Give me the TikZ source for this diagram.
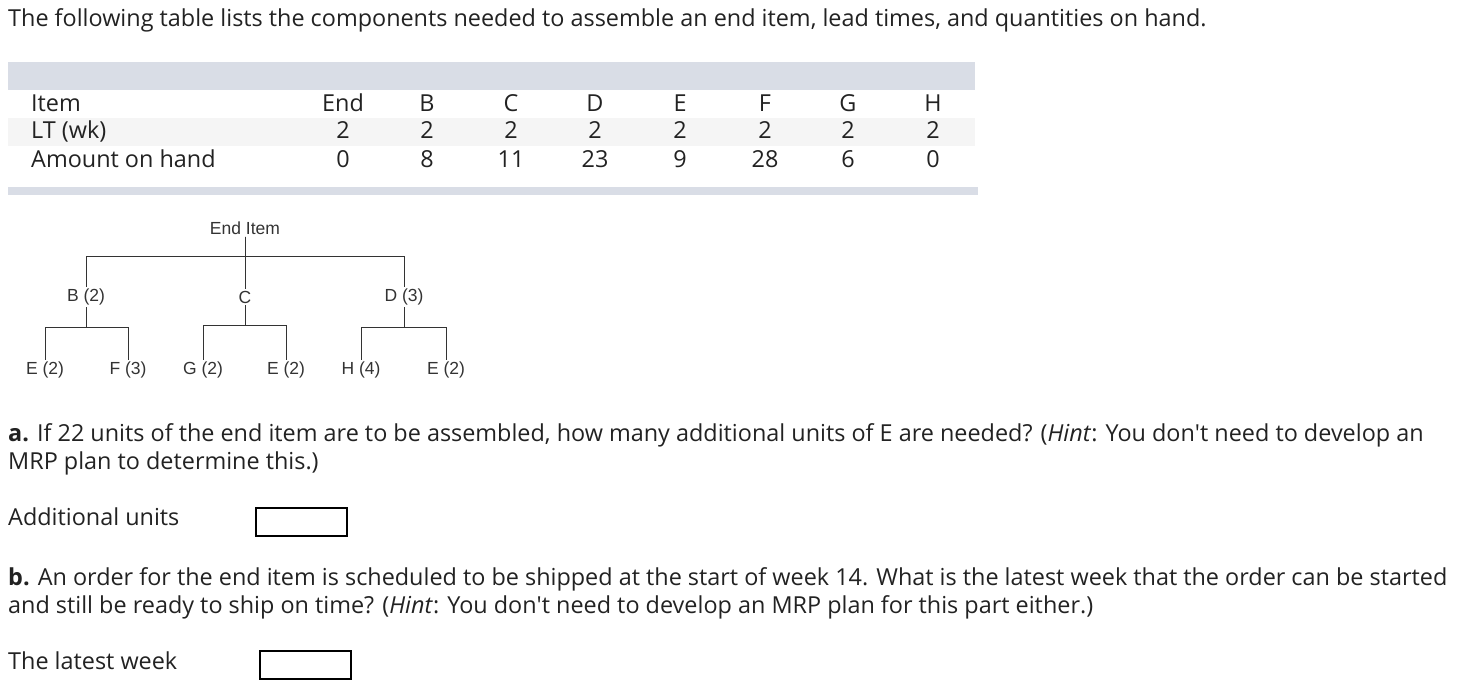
\documentclass[tikz,border=0pt]{standalone}
\usepackage{fontspec}
\setmainfont{Open Sans}
\newfontfamily\treefont{Liberation Sans}
\usetikzlibrary{positioning}

\definecolor{bandgray}{HTML}{D9DDE6}
\definecolor{rowgray}{HTML}{F5F5F5}
\definecolor{ink}{HTML}{222222}
\definecolor{treeink}{HTML}{333333}

\tikzset{
  txt/.style={anchor=base west, inner sep=0pt, text=ink, font=\fontsize{23.4}{28}\selectfont},
  cell/.style={anchor=base, inner sep=0pt, text=ink, font=\fontsize{23.4}{28}\selectfont},
  part/.style={inner sep=2pt, text=treeink, font=\treefont\fontsize{17.5}{20}\selectfont},
  link/.style={draw=treeink, line width=1pt},
  answerbox/.style={draw=black, line width=1.6pt, anchor=north west, minimum width=91pt, minimum height=28pt, inner sep=0pt}
}

\begin{document}
\begin{tikzpicture}[x=1pt, y=-1pt]
  \useasboundingbox (0,0) rectangle (1479,690);

  \node[txt] (intro) at (8,27) {The following table lists the components needed to assemble an end item, lead times, and quantities on hand.};

  % table
  \fill[bandgray] (8,62) rectangle (975,90);
  \fill[rowgray] (8,118) rectangle (975,146);
  \fill[bandgray] (8,187) rectangle (978,195);
  \node[txt] (item) at (31,111) {Item};
  \node[txt] (lt) at (31,139) {LT (wk)};
  \node[txt] (onhand) at (31,167) {Amount on hand};
  \foreach \name/\x/\oh in {End/343/0, B/427/8, C/511/11, D/595/23, E/680/9, F/765/28, G/848/6, H/933/0} {
    \node[cell] (item-\name) at (\x,111) {\name};
    \node[cell] (lt-\name) at (\x,139) {2};
    \node[cell] (oh-\name) at (\x,167) {\oh};
  }

  % product structure tree
  \node[part] (end) at (245,228) {End Item};
  \node[part] (b) at (86,297) {B (2)};
  \node[part] (c) at (245,297) {C};
  \node[part] (d) at (404,297) {D (3)};
  \node[part] (be) at (45,370) {E (2)};
  \node[part] (bf) at (128,370) {F (3)};
  \node[part] (cg) at (203,370) {G (2)};
  \node[part] (ce) at (286,370) {E (2)};
  \node[part] (dh) at (361,370) {H (4)};
  \node[part] (de) at (446,370) {E (2)};

  \draw[link] (end.south) -- ++(0,20) -| (b.north);
  \draw[link] (end.south) -- ++(0,20) -| (d.north);
  \draw[link] (end) -- (c);
  \draw[link] (b.south) -- ++(0,20) -| (be.north);
  \draw[link] (b.south) -- ++(0,20) -| (bf.north);
  \draw[link] (c.south) -- ++(0,20) -| (cg.north);
  \draw[link] (c.south) -- ++(0,20) -| (ce.north);
  \draw[link] (d.south) -- ++(0,20) -| (dh.north);
  \draw[link] (d.south) -- ++(0,20) -| (de.north);

  % questions
  \node[txt] (qa1) at (8,441) {\textbf{a.} If 22 units of the end item are to be assembled, how many additional units of E are needed? (\textit{Hint}: You don\textquotesingle t need to develop an};
  \node[txt] (qa2) at (8,469) {MRP plan to determine this.)};
  \node[txt] (adl) at (8,525) {Additional units};
  \node[answerbox] (ansa) at (255,507) {};

  \node[txt] (qb1) at (8,585) {\textbf{b.} An order for the end item is scheduled to be shipped at the start of week 14. What is the latest week that the order can be started};
  \node[txt] (qb2) at (8,613) {and still be ready to ship on time? (\textit{Hint}: You don\textquotesingle t need to develop an MRP plan for this part either.)};
  \node[txt] (lwl) at (8,669) {The latest week};
  \node[answerbox] (ansb) at (259,650) {};
\end{tikzpicture}
\end{document}
